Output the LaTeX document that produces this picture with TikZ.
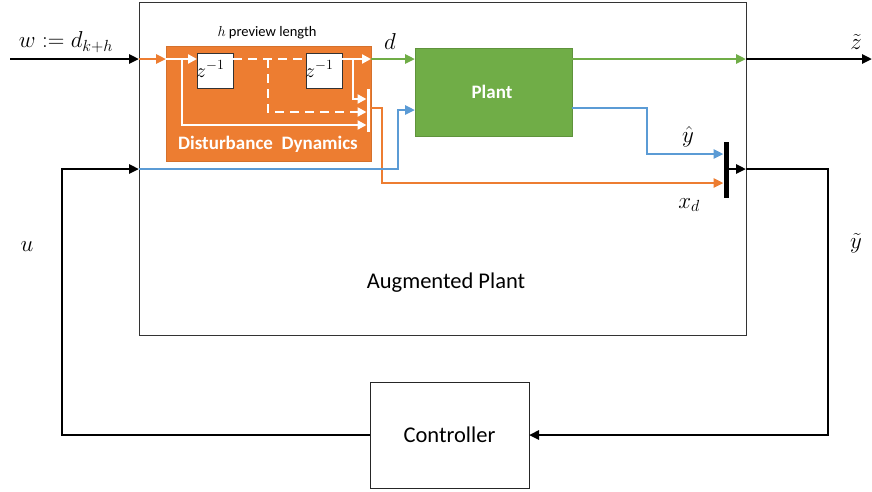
\RequirePackage{fix-cm}
\documentclass[tikz,border=0pt]{standalone}
\usepackage{fontspec}
\setmainfont{Carlito}
\usetikzlibrary{arrows.meta,calc}
\definecolor{oorange}{HTML}{ED7D31}
\definecolor{ogreen}{HTML}{70AD47}
\definecolor{oblue}{HTML}{5B9BD5}
\tikzset{
  tipa/.style={-{Triangle[length=10pt,width=9pt]}},
  tipw/.style={-{Triangle[length=9pt,width=9pt]}},
  blkline/.style={line width=2.6pt, black},
  blkarr/.style={blkline, tipa},
  orarr/.style={line width=2.8pt, oorange, tipa},
  orline/.style={line width=2.8pt, oorange},
  grarr/.style={line width=2.8pt, ogreen, tipa},
  blarr/.style={line width=2.8pt, oblue, tipa},
  blline/.style={line width=2.8pt, oblue},
  whline/.style={line width=2.6pt, white},
  wharr/.style={whline, tipw},
  whdash/.style={whline, dash pattern=on 9pt off 6pt},
  box/.style={rectangle, inner sep=0pt, outer sep=0pt},
  lbl/.style={inner sep=0pt, font=\fontsize{22.5}{27}\selectfont},
  mlbl/.style={inner sep=0pt, font=\fontsize{23}{27}\selectfont},
}
\begin{document}
\begin{tikzpicture}[x=1pt, y=-1pt]
\useasboundingbox (0,0) rectangle (872,491);
% boxes
\node[box, draw=black!80, line width=1pt, minimum width=607pt, minimum height=333pt] (aug) at (442.5,168.5) {};
\node[box, fill=oorange, draw=oorange!90!black, line width=0.6pt, minimum width=205pt, minimum height=115pt] (dist) at (268.5,103.5) {};
\node[box, fill=ogreen, draw=ogreen!85!black, line width=0.8pt, minimum width=157pt, minimum height=88pt] (plant) at (493.5,92) {};
\node[box, draw=black!85, line width=1pt, minimum width=159pt, minimum height=106pt] (ctrl) at (449.5,435) {};
\node[box, fill=white, draw=black!80, line width=0.8pt, minimum width=36pt, minimum height=35pt] (z1) at (215,70.5) {};
\node[box, fill=white, draw=black!80, line width=0.8pt, minimum width=36pt, minimum height=35pt] (z2) at (324,70.5) {};
\node[box, fill=white, minimum width=3pt, minimum height=43pt] (smux) at (368,110.5) {};
\node[box, fill=black, minimum width=5pt, minimum height=56pt] (bmux) at (726,170) {};

% texts
\node[lbl] (tctrl) at (ctrl) {Controller};
\node[lbl] (taug) at (446,283) {Augmented Plant};
\node[inner sep=0pt, font=\fontsize{19}{22}\selectfont\bfseries, text=white] (tplant) at (492,92) {Plant};
\node[inner sep=0pt, font=\fontsize{19}{22}\selectfont\bfseries, text=white] (tdist) at (268,144) {Disturbance\ \ Dynamics};
\node[inner sep=0pt, font=\fontsize{14.5}{17}\selectfont] (tprev) at (267,33) {$h$ preview length};
\node[inner sep=0pt, anchor=base west, font=\fontsize{20}{24}\selectfont] (tz1) at (196,77) {$z^{-1}$};
\node[inner sep=0pt, anchor=base west, font=\fontsize{20}{24}\selectfont] (tz2) at (305,77) {$z^{-1}$};
\node[mlbl] (tw) at (66,42) {$w \mathrel{:=} d_{k+h}$};
\node[mlbl] (td) at (390,42) {$d$};
\node[mlbl] (tz) at (856,42) {$\tilde{z}$};
\node[mlbl] (tyh) at (688,137) {$\hat{y}$};
\node[mlbl] (txd) at (689,205) {$x_d$};
\node[mlbl] (tu) at (27,247) {$u$};
\node[mlbl] (tyt) at (856,243) {$\tilde{y}$};

% coordinates
\coordinate (win) at (10,59);
\coordinate (zout) at (872,59);
\coordinate (uline) at (0,169);
\coordinate (yline) at (0,169);

% top path
\draw[blkarr] (win) -- (win -| aug.west);
\draw[orarr] (win -| aug.west) -- (win -| dist.west);
\draw[wharr] (win -| dist.west) -- (win -| z1.west);
\draw[whdash] (win -| z1.east) -- (win -| z2.west);
\draw[wharr] (win -| z2.east) -- (win -| dist.east);
\draw[grarr] (win -| dist.east) -- (win -| plant.west);
\draw[grarr] (win -| plant.east) -- (win -| aug.east);
\draw[blkarr] (win -| aug.east) -- (zout);

% inner branches to small mux
\coordinate (b1) at (353,59);
\coordinate (b2) at (268,59);
\coordinate (b3) at (182,59);
\draw[wharr] (b1) |- (smux.west |- 0,99);
\draw[whdash, tipw] (b2) |- (smux.west |- 0,112);
\draw[wharr] (b3) |- (smux.west |- 0,125);

% orange x_d path
\draw[orarr] (smux.east |- 0,108) -| (382,183) -- (bmux.west |- 0,183);

% blue u into plant
\draw[blarr] (uline -| aug.west) -| (398,110) -- (plant.west |- 0,110);
% blue y-hat
\draw[blarr] (plant.east |- 0,108) -| (647,154) -- (bmux.west |- 0,154);

% mux output
\draw[blkarr] (bmux.east |- yline) -- (yline -| aug.east);
\draw[blkline, tipa] (yline -| aug.east) -| (828,435) -- (ctrl.east);
% controller to plant input
\draw[blkline, tipa] (ctrl.west) -| (62,169) -- (uline -| aug.west);
\end{tikzpicture}
\end{document}
